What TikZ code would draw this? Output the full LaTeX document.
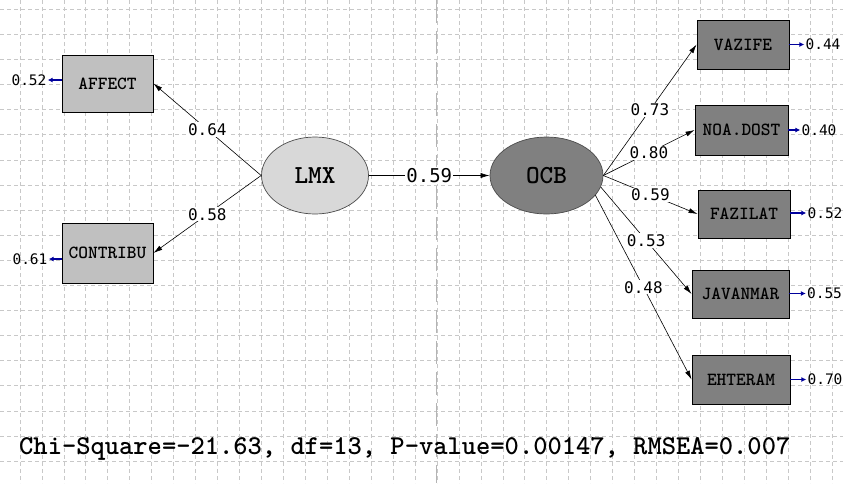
\documentclass[tikz,border=0pt]{standalone}
\usepackage{fontspec}
\newfontfamily\numfont{DejaVu Sans Mono}
\newfontfamily\lblfont{lmmonolt10-bold.otf}
\usetikzlibrary{arrows.meta,shapes.geometric}
\definecolor{gridgray}{HTML}{C8C8C8}
\definecolor{lightbox}{HTML}{C0C0C0}
\definecolor{darkbox}{HTML}{808080}
\definecolor{lightlat}{HTML}{D8D8D8}
\definecolor{errblue}{HTML}{00009C}

\begin{document}
\begin{tikzpicture}[x=1pt,y=-1pt,
  gridline/.style={gridgray, line width=0.8pt, dash pattern=on 4pt off 3pt},
  midline/.style={gridgray!90!black, line width=1pt, dash pattern=on 23pt off 8pt},
  obs/.style={draw, line width=0.9pt, inner sep=0pt, minimum height=49pt,
    font=\lblfont\fontsize{18.5}{18.5}\selectfont},
  lat/.style={ellipse, draw=black!70, line width=0.7pt, minimum width=108pt, minimum height=77pt,
    font=\lblfont\fontsize{26}{26}\selectfont},
  coef/.style={fill=white, inner sep=1pt, font=\numfont\fontsize{16}{16}\selectfont},
  err/.style={inner sep=1pt, font=\numfont\fontsize{14.5}{14.5}\selectfont},
  path/.style={line width=0.6pt, -{Latex[length=9pt,width=5pt]}},
  errpath/.style={errblue, line width=1.3pt, -{Latex[length=5pt,width=5pt]}}]
\useasboundingbox (0,0) rectangle (843,483);

% grid
\foreach \k in {0,...,37}
  \draw[gridline] ({20+21.95*\k},0) -- ({20+21.95*\k},483);
\foreach \k in {0,...,18}
  \draw[gridline] (0,{9.3+25.1*\k}) -- (843,{9.3+25.1*\k});
\draw[midline] (436.7,0) -- (436.7,483);

% indicators
\node (affect) at (107.5,83.5) [obs, fill=lightbox, minimum width=91pt, minimum height=57pt] {AFFECT};
\node (contribu) at (107.5,253) [obs, fill=lightbox, minimum width=91pt, minimum height=60pt] {CONTRIBU};
\node (vazife) at (743,44.5) [obs, fill=darkbox, minimum width=92pt] {VAZIFE};
\node (noadost) at (741.5,130) [obs, fill=darkbox, minimum width=93pt, minimum height=50pt] {NOA.DOST};
\node (fazilat) at (744,214) [obs, fill=darkbox, minimum width=92pt, minimum height=48pt] {FAZILAT};
\node (javanmar) at (740.5,294) [obs, fill=darkbox, minimum width=97pt, minimum height=48pt] {JAVANMAR};
\node (ehteram) at (741,379.5) [obs, fill=darkbox, minimum width=98pt] {EHTERAM};

% latent variables
\node (lmx) at (315,175.5) [lat, fill=lightlat, minimum width=107pt] {LMX};
\node (ocb) at (546.5,175.5) [lat, fill=darkbox, minimum width=113pt] {OCB};

% error variances
\node (e1) at (29,80) [err] {0.52};
\node (e2) at (30,259) [err] {0.61};
\node (e3) at (823,44.5) [err] {0.44};
\node (e4) at (819,130) [err] {0.40};
\node (e5) at (825,213) [err] {0.52};
\node (e6) at (824.5,293.5) [err] {0.55};
\node (e7) at (825,379.5) [err] {0.70};

\draw[errpath] (affect.west |- e1.east) -- (e1.east);
\draw[errpath] (contribu.west |- e2.east) -- (e2.east);
\draw[errpath] (vazife.east |- e3.west) -- (e3.west);
\draw[errpath] (noadost.east |- e4.west) -- (e4.west);
\draw[errpath] (fazilat.east |- e5.west) -- (e5.west);
\draw[errpath] (javanmar.east |- e6.west) -- (e6.west);
\draw[errpath] (ehteram.east |- e7.west) -- (e7.west);

% paths
\draw[path] (lmx.west) -- node[coef] {0.64} (affect.east);
\draw[path] (lmx.west) -- node[coef] {0.58} (contribu.east);
\draw[path] (lmx.east) -- node[coef, font=\numfont\fontsize{19}{19}\selectfont] {0.59} (ocb.west);
\draw[path] (ocb.east) -- node[coef] {0.73} (vazife.west);
\draw[path] (ocb.east) -- node[coef] {0.80} (noadost.west);
\draw[path] (ocb.east) -- node[coef] {0.59} (fazilat.west);
\draw[path] (ocb.-12) -- node[coef] {0.53} (javanmar.west);
\draw[path] (ocb.-22) -- node[coef] {0.48} (ehteram.west);

% fit statistics
\node (fit) at (19,449) [anchor=west, inner sep=0pt, font=\lblfont\fontsize{27.2}{27.2}\selectfont]
  {Chi-Square=-21.63, df=13, P-value=0.00147, RMSEA=0.007};
\end{tikzpicture}
\end{document}
